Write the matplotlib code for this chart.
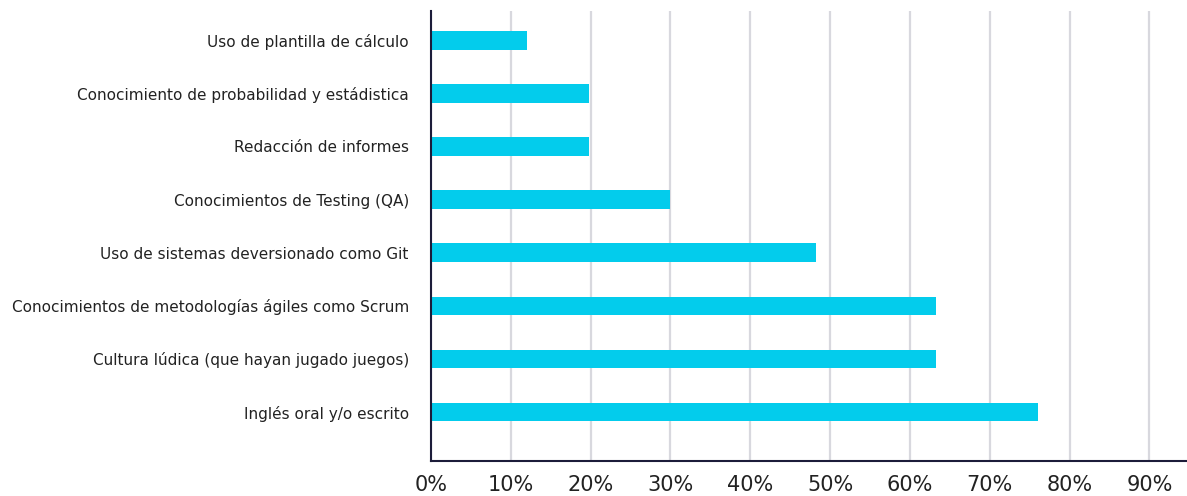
import matplotlib
matplotlib.use("Agg")
import matplotlib.pyplot as plt
from matplotlib.ticker import FuncFormatter

categories = [
    "Uso de plantilla de cálculo",
    "Conocimiento de probabilidad y estádistica",
    "Redacción de informes",
    "Conocimientos de Testing (QA)",
    "Uso de sistemas deversionado como Git",
    "Conocimientos de metodologías ágiles como Scrum",
    "Cultura lúdica (que hayan jugado juegos)",
    "Inglés oral y/o escrito",
]
values = [12.0, 19.8, 19.8, 30.0, 48.2, 63.2, 63.2, 76.0]
xticks = [0, 10, 20, 30, 40, 50, 60, 70, 80, 90]

plt.rcParams['font.family'] = ['DejaVu Sans']

fig = plt.figure(figsize=(11.87, 4.96), dpi=100)
ax = fig.add_axes([431/1187, 35/496, 1 - 431/1187, (461-11)/496])

ypos = list(range(len(categories)))
ax.barh(ypos, values, height=0.35, color="#03CCEC", zorder=3)
ax.set_yticks(ypos)
ax.set_yticklabels(categories, fontsize=11, color="#222222")
ax.set_ylim(len(categories) - 1 + 0.92, -0.55)

ax.set_xlim(0, 94.7)
ax.set_xticks(xticks)
ax.xaxis.set_major_formatter(FuncFormatter(lambda v, p: f"{int(v)}%"))
ax.tick_params(axis='x', labelsize=15, colors="#222222", length=0, pad=10)
ax.tick_params(axis='y', length=0, pad=16)

ax.grid(axis='x', color="#D8D8DE", linewidth=1.6, zorder=0)
ax.grid(axis='y', visible=False)

for s in ['top', 'right']:
    ax.spines[s].set_visible(False)
for s in ['left', 'bottom']:
    ax.spines[s].set_color("#1C1C3A")
    ax.spines[s].set_linewidth(1.5)
    ax.spines[s].set_zorder(4)

fig.savefig("out.png", dpi=100)
